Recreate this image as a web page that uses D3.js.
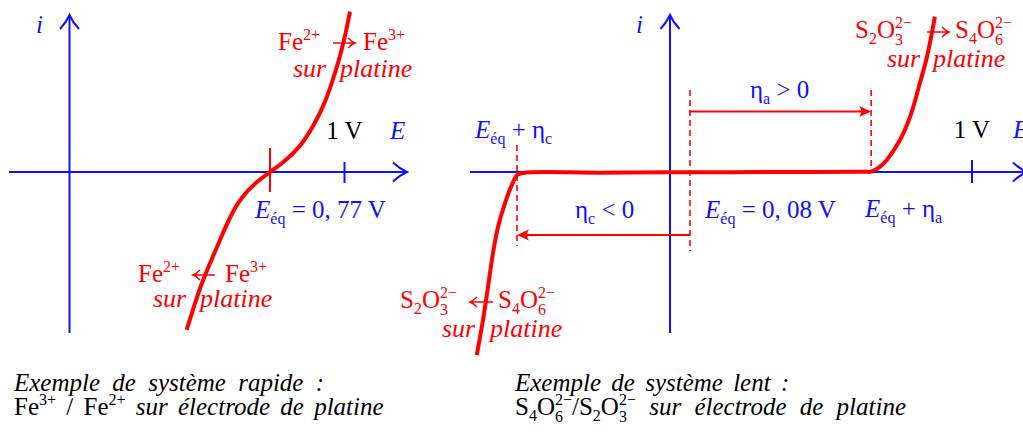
<!DOCTYPE html>
<html>
<head>
<meta charset="utf-8">
<script src="https://cdn.jsdelivr.net/npm/d3@7"></script>
<style>
  body { margin: 0; background: #fff; }
  svg { display: block; }
  text { font-family: "Liberation Serif", "Times New Roman", serif; white-space: pre; }
</style>
</head>
<body>
<svg id="fig" width="1023" height="432"></svg>
<script>
// ---- Data: current–potential curves (E in volts, i in arbitrary units) ----
// Fast system Fe3+/Fe2+ on platinum
const fastE = [0.450, 0.482, 0.508, 0.540, 0.578, 0.616, 0.661, 0.719, 0.770, 0.810, 0.863, 0.903, 0.940, 0.964, 0.986, 1.004, 1.017];
const fastI = [-0.981, -0.814, -0.689, -0.565, -0.422, -0.278, -0.153, -0.060, 0.000, 0.056, 0.155, 0.280, 0.429, 0.571, 0.716, 0.863, 0.996];
const fastEq = 0.77;

// Slow system S4O6 2-/S2O3 2- on platinum
const slowE = [-0.773, -0.748, -0.728, -0.708, -0.688, -0.660, -0.633, -0.611, -0.588, -0.280, 0.000, 0.374, 0.651, 0.671, 0.700, 0.722, 0.765, 0.798, 0.830, 0.853, 0.879];
const slowI = [-1.137, -0.919, -0.714, -0.503, -0.342, -0.193, -0.081, -0.019, -0.006, -0.004, -0.002, 0.000, 0.002, 0.002, 0.033, 0.075, 0.199, 0.343, 0.553, 0.714, 0.965];
const slowEq = 0.08;
const etaC = -0.692;   // cathodic overpotential
const etaA = 0.591;    // anodic overpotential

const unitE = 1;       // the "1 V" graduation

// ---- Style ----
const BLUE = "#1010ff", RED = "#ff0000";
const FS = 25, SCRIPT = 16;

const svg = d3.select("#fig");

// Potential scales: schematic axes, graduated at 0, E_eq and 1 V
const xL = d3.scaleLinear().domain([0, fastEq, unitE]).range([69.5, 270, 344.5]);
const xR = d3.scaleLinear().domain([0, slowEq, unitE]).range([670, 690, 972]);
const y  = d3.scaleLinear().domain([-1, 1]).range([333, 11]);

// ---- helpers ----
function richText(parent, x, yy, parts, color, opts = {}) {
  const t = parent.append("text").attr("x", x).attr("y", yy)
    .attr("fill", color).style("font-size", (opts.size || FS) + "px");
  if (opts.anchor) t.attr("text-anchor", opts.anchor);
  if (opts.ws) t.style("word-spacing", opts.ws + "px");
  let off = 0;
  parts.forEach(p => {
    const role = p.r || "n";
    if (role === "ss") {
      const SUBo = 7, SUPo = -10;
      const s = t.append("tspan").attr("dy", SUBo - off).style("font-size", SCRIPT + "px").text(p.t[0]);
      const w = s.node().getComputedTextLength();
      t.append("tspan").attr("dx", -w).attr("dy", SUPo - SUBo).style("font-size", SCRIPT + "px").text(p.t[1]);
      off = SUPo;
    } else {
      const target = role === "sub" ? 6 : role === "sup" ? -10 : 0;
      const s = t.append("tspan").attr("dy", target - off).text(p.t);
      if (role !== "n") s.style("font-size", SCRIPT + "px");
      if (p.it) s.style("font-style", "italic");
      off = target;
    }
  });
  return t;
}

// reaction arrow (thin shaft, curved barbs) between the two species
function reactArrow(parent, xFrom, xTo, yy) {
  const d = Math.sign(xTo - xFrom);
  parent.append("path")
    .attr("d", `M${xFrom},${yy} H${xTo} M${xTo - d * 7},${yy - 5} Q${xTo - d * 3},${yy - 1} ${xTo},${yy} Q${xTo - d * 3},${yy + 1} ${xTo - d * 7},${yy + 5}`)
    .attr("fill", "none").attr("stroke", RED).attr("stroke-width", 1.4);
}

function axisArrow(g, x0, y0, x1, y1) {
  g.append("line").attr("x1", x0).attr("y1", y0).attr("x2", x1).attr("y2", y1)
    .attr("stroke", BLUE).attr("stroke-width", 2);
  const a = Math.atan2(y1 - y0, x1 - x0);
  const hg = g.append("g").attr("transform", `translate(${x1},${y1}) rotate(${a * 180 / Math.PI})`);
  hg.append("path").attr("d", "M-14,-9.5 Q-7,-3 0,0 Q-7,3 -14,9.5")
    .attr("fill", "none").attr("stroke", BLUE).attr("stroke-width", 2);
}

function redArrow(g, x0, x1, yy) {
  g.append("line").attr("x1", x0).attr("y1", yy).attr("x2", x1 - Math.sign(x1 - x0) * 6).attr("y2", yy)
    .attr("stroke", RED).attr("stroke-width", 1.8);
  const dir = x1 > x0 ? 0 : 180;
  g.append("path").attr("transform", `translate(${x1},${yy}) rotate(${dir})`)
    .attr("d", "M0,0 L-12,-5.5 Q-8,0 -12,5.5 Z").attr("fill", RED);
}

function dashed(g, x, y0, y1) {
  g.append("line").attr("x1", x).attr("x2", x).attr("y1", y0).attr("y2", y1)
    .attr("stroke", RED).attr("stroke-width", 1.6).attr("stroke-dasharray", "6,4");
}

const smooth = d3.line().curve(d3.curveBasis);
const line = d3.line().curve(d3.curveCatmullRom.alpha(0.5));

// ================= Left panel: fast system =================
const L = svg.append("g");
axisArrow(L, 9, y(0), 407, y(0));
axisArrow(L, xL(0), y(-1), xL(0), 15);
L.append("line").attr("x1", xL(unitE)).attr("x2", xL(unitE)).attr("y1", y(0) - 10).attr("y2", y(0) + 11)
  .attr("stroke", BLUE).attr("stroke-width", 2);
L.append("line").attr("x1", xL(fastEq)).attr("x2", xL(fastEq)).attr("y1", y(0) - 24).attr("y2", y(0) + 20)
  .attr("stroke", RED).attr("stroke-width", 2);
L.append("path").attr("d", smooth(fastE.map((e, k) => [xL(e), y(fastI[k])])))
  .attr("fill", "none").attr("stroke", RED).attr("stroke-width", 4);

richText(L, 36, 33, [{ t: "i", it: true }], BLUE);
richText(L, xL(unitE), 139, [{ t: "1 V" }], "#000", { anchor: "middle" });
richText(L, 390, 139, [{ t: "E", it: true }], BLUE);
richText(L, xL(fastEq) - 15, 218, [{ t: "E", it: true }, { t: "éq", r: "sub" }, { t: " = 0, 77 V" }], BLUE);

richText(L, 278, 50, [{ t: "Fe" }, { t: "2+", r: "sup" }], RED);
reactArrow(L, 333, 355, 43);
richText(L, 363, 50, [{ t: "Fe" }, { t: "3+", r: "sup" }], RED);
richText(L, 293, 77, [{ t: "sur", it: true }], RED, { size: 26 });
richText(L, 340, 77, [{ t: "platine", it: true }], RED, { size: 26 });

richText(L, 138, 282, [{ t: "Fe" }, { t: "2+", r: "sup" }], RED);
reactArrow(L, 215, 193, 275);
richText(L, 225, 282, [{ t: "Fe" }, { t: "3+", r: "sup" }], RED);
richText(L, 153, 307, [{ t: "sur", it: true }], RED, { size: 26 });
richText(L, 200, 307, [{ t: "platine", it: true }], RED, { size: 26 });

richText(L, 14, 391, [{ t: "Exemple de système rapide :", it: true }], "#000", { ws: 6 });
richText(L, 14, 415, [{ t: "Fe" }, { t: "3+", r: "sup" }, { t: " / Fe" }, { t: "2+", r: "sup" },
  { t: " sur électrode de platine", it: true }], "#000", { ws: 4 });

// ================= Right panel: slow system =================
const R = svg.append("g");
axisArrow(R, 470, y(0), 1027, y(0));
axisArrow(R, xR(0), y(-1), xR(0), 15);
R.append("line").attr("x1", xR(unitE)).attr("x2", xR(unitE)).attr("y1", y(0) - 12).attr("y2", y(0) + 11)
  .attr("stroke", BLUE).attr("stroke-width", 2);

dashed(R, xR(slowEq), 90, 251);
dashed(R, xR(slowEq + etaA), 90, y(0));
dashed(R, xR(slowEq + etaC), 145, 246);
redArrow(R, xR(slowEq), xR(slowEq + etaA), 111.5);
redArrow(R, xR(slowEq), xR(slowEq + etaC), 235);

R.append("path").attr("d", line(slowE.map((e, k) => [xR(e), y(slowI[k])])))
  .attr("fill", "none").attr("stroke", RED).attr("stroke-width", 4);

richText(R, 636, 33, [{ t: "i", it: true }], BLUE);
richText(R, xR(unitE), 138, [{ t: "1 V" }], "#000", { anchor: "middle" });
richText(R, 1013, 138, [{ t: "E", it: true }], BLUE);

richText(R, 475, 138, [{ t: "E", it: true }, { t: "éq", r: "sub" }, { t: " + η" }, { t: "c", r: "sub" }], BLUE);
richText(R, 750, 98, [{ t: "η" }, { t: "a", r: "sub" }, { t: " > 0" }], BLUE);
richText(R, 575, 218, [{ t: "η" }, { t: "c", r: "sub" }, { t: " < 0" }], BLUE);
richText(R, 705, 218, [{ t: "E", it: true }, { t: "éq", r: "sub" }, { t: " = 0, 08 V" }], BLUE);
richText(R, 865, 217, [{ t: "E", it: true }, { t: "éq", r: "sub" }, { t: " + η" }, { t: "a", r: "sub" }], BLUE);

const thio = [{ t: "S" }, { t: "2", r: "sub" }, { t: "O" }, { t: ["3", "2−"], r: "ss" }];
const tetra = [{ t: "S" }, { t: "4", r: "sub" }, { t: "O" }, { t: ["6", "2−"], r: "ss" }];

richText(R, 855, 38, thio, RED);
reactArrow(R, 927, 949, 32);
richText(R, 955, 38, tetra, RED);
richText(R, 887, 67, [{ t: "sur", it: true }], RED, { size: 26 });
richText(R, 933, 67, [{ t: "platine", it: true }], RED, { size: 26 });

richText(R, 400, 308, thio, RED);
reactArrow(R, 493, 470, 302);
richText(R, 498, 308, tetra, RED);
richText(R, 442, 337, [{ t: "sur", it: true }], RED, { size: 26 });
richText(R, 490, 337, [{ t: "platine", it: true }], RED, { size: 26 });

richText(R, 515, 391, [{ t: "Exemple de système lent :", it: true }], "#000", { ws: 4 });
richText(R, 515, 415, [...tetra, { t: "/S" }, { t: "2", r: "sub" }, { t: "O" }, { t: ["3", "2−"], r: "ss" },
  { t: " sur électrode de platine", it: true }], "#000", { ws: 7 });
</script>
</body>
</html>
